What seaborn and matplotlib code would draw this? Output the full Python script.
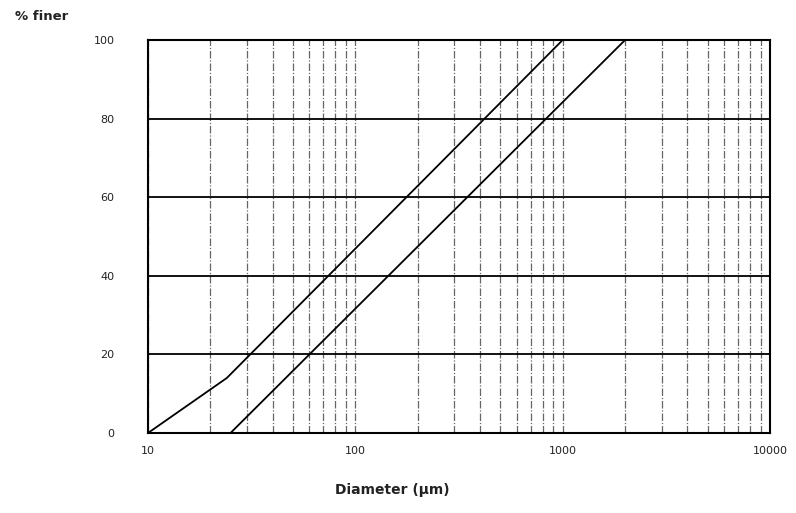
import matplotlib
matplotlib.use("Agg")
import matplotlib.pyplot as plt
import matplotlib.ticker as mticker
import seaborn as sns
import pandas as pd

# Data
sample_a_diam = [10, 24, 1000]
sample_a_finer = [0, 14, 100]
sample_b_diam = [25, 2000]
sample_b_finer = [0, 100]

x_ticks = [10, 100, 1000, 10000]
x_tick_labels = ["10", "100", "1000", "10000"]
y_ticks = [0, 20, 40, 60, 80, 100]
y_tick_labels = ["0", "20", "40", "60", "80", "100"]

df = pd.DataFrame({
    "diameter": sample_a_diam + sample_b_diam,
    "finer": sample_a_finer + sample_b_finer,
    "sample": ["A"] * len(sample_a_diam) + ["B"] * len(sample_b_diam),
})

sns.set_style("white")
plt.rcParams["font.family"] = ["DejaVu Sans"]

fig = plt.figure(figsize=(7.96, 5.13), dpi=100)
ax = fig.add_axes([148/796, 1 - 433/513, (770 - 148)/796, (433 - 40)/513])

ax.set_xscale("log")
ax.set_xlim(10, 10000)
ax.set_ylim(0, 100)

# vertical log grid lines (dash-dot, grey)
ax.xaxis.set_minor_locator(mticker.LogLocator(base=10, subs=range(2, 10), numticks=20))
ax.xaxis.set_minor_formatter(mticker.NullFormatter())
ax.grid(which="both", axis="x", color="#666666", linestyle=(0, (6, 1.5, 1, 1.5)), linewidth=0.9)
# horizontal lines solid
for yv in y_ticks[1:-1]:
    ax.axhline(yv, color="black", linewidth=1.3, zorder=1)

sns.lineplot(data=df, x="diameter", y="finer", units="sample", estimator=None,
             color="black", linewidth=1.3, ax=ax, sort=False, zorder=3)

ax.set_xticks(x_ticks)
ax.set_xticklabels(x_tick_labels)
ax.set_yticks(y_ticks)
ax.set_yticklabels(y_tick_labels)
ax.tick_params(axis="both", which="both", length=0, labelsize=8, colors="#222222")
ax.tick_params(axis="x", pad=9)
ax.tick_params(axis="y", pad=24)
ax.set_xlabel("")
ax.set_ylabel("")

for s in ax.spines.values():
    s.set_color("black")
    s.set_linewidth(1.5)
    s.set_visible(True)

fig.text(15/796, 1 - 16/513, "% finer", fontsize=9.5, fontweight="bold", va="center", ha="left", color="#222222")
fig.text(392/796, 1 - 490/513, "Diameter (\u00b5m)", fontsize=10, fontweight="semibold", va="center", ha="center", color="#222222")

fig.savefig("out.png", dpi=100)
